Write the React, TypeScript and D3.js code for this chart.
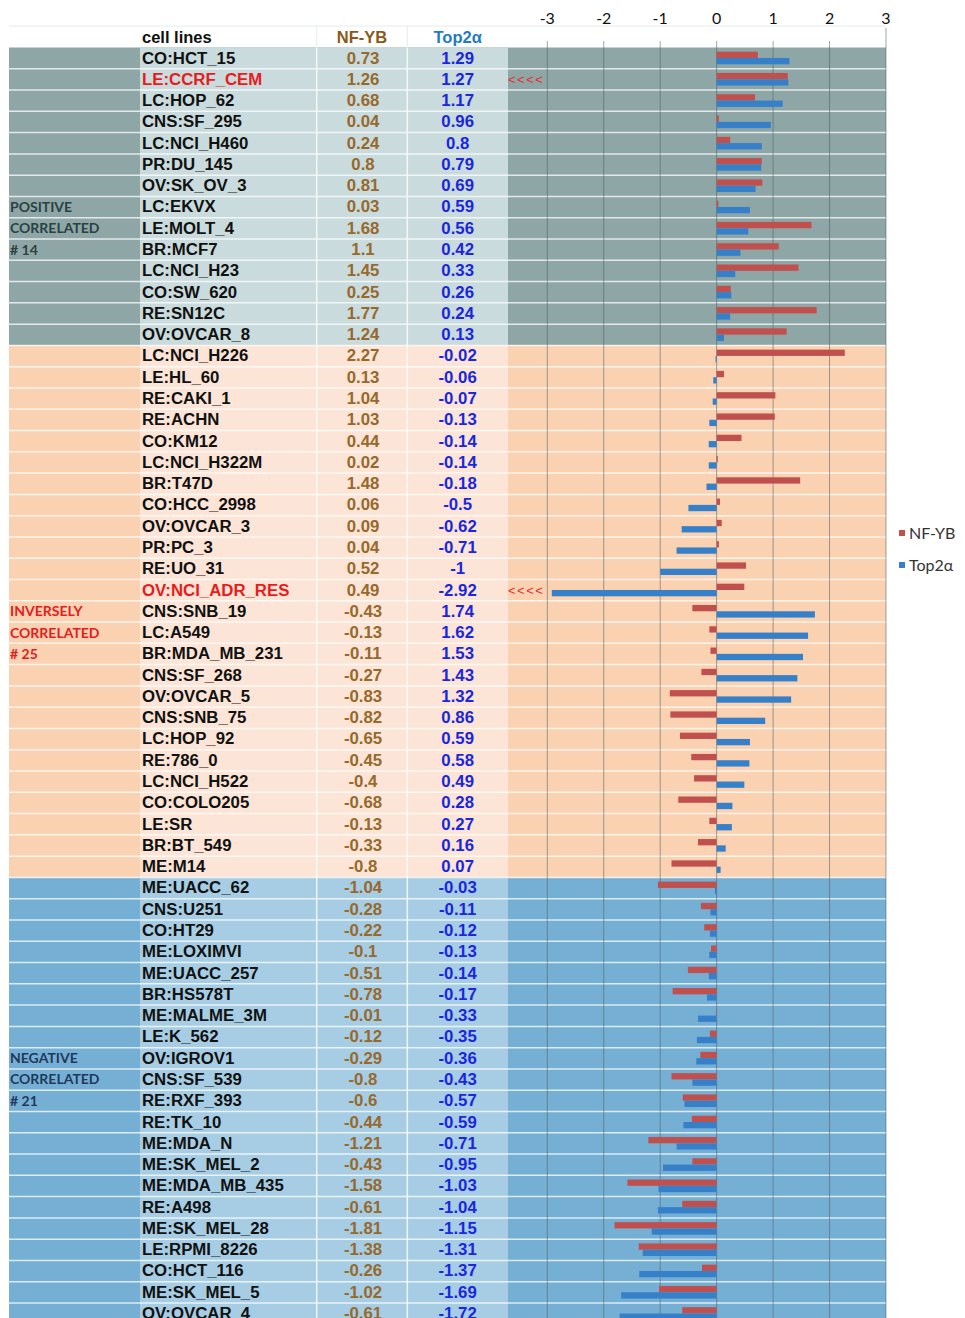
import React from 'react';
import * as d3 from 'd3';

const cellLines = [
  'CO:HCT_15','LE:CCRF_CEM','LC:HOP_62','CNS:SF_295','LC:NCI_H460','PR:DU_145','OV:SK_OV_3','LC:EKVX','LE:MOLT_4','BR:MCF7','LC:NCI_H23','CO:SW_620','RE:SN12C','OV:OVCAR_8',
  'LC:NCI_H226','LE:HL_60','RE:CAKI_1','RE:ACHN','CO:KM12','LC:NCI_H322M','BR:T47D','CO:HCC_2998','OV:OVCAR_3','PR:PC_3','RE:UO_31','OV:NCI_ADR_RES','CNS:SNB_19','LC:A549','BR:MDA_MB_231','CNS:SF_268','OV:OVCAR_5','CNS:SNB_75','LC:HOP_92','RE:786_0','LC:NCI_H522','CO:COLO205','LE:SR','BR:BT_549','ME:M14',
  'ME:UACC_62','CNS:U251','CO:HT29','ME:LOXIMVI','ME:UACC_257','BR:HS578T','ME:MALME_3M','LE:K_562','OV:IGROV1','CNS:SF_539','RE:RXF_393','RE:TK_10','ME:MDA_N','ME:SK_MEL_2','ME:MDA_MB_435','RE:A498','ME:SK_MEL_28','LE:RPMI_8226','CO:HCT_116','ME:SK_MEL_5','OV:OVCAR_4',
];

const nfybValues = [
  0.73, 1.26, 0.68, 0.04, 0.24, 0.8, 0.81, 0.03, 1.68, 1.1, 1.45, 0.25, 1.77, 1.24,
  2.27, 0.13, 1.04, 1.03, 0.44, 0.02, 1.48, 0.06, 0.09, 0.04, 0.52, 0.49, -0.43, -0.13, -0.11, -0.27, -0.83, -0.82, -0.65, -0.45, -0.4, -0.68, -0.13, -0.33, -0.8,
  -1.04, -0.28, -0.22, -0.1, -0.51, -0.78, -0.01, -0.12, -0.29, -0.8, -0.6, -0.44, -1.21, -0.43, -1.58, -0.61, -1.81, -1.38, -0.26, -1.02, -0.61,
];

const top2aValues = [
  1.29, 1.27, 1.17, 0.96, 0.8, 0.79, 0.69, 0.59, 0.56, 0.42, 0.33, 0.26, 0.24, 0.13,
  -0.02, -0.06, -0.07, -0.13, -0.14, -0.14, -0.18, -0.5, -0.62, -0.71, -1, -2.92, 1.74, 1.62, 1.53, 1.43, 1.32, 0.86, 0.59, 0.58, 0.49, 0.28, 0.27, 0.16, 0.07,
  -0.03, -0.11, -0.12, -0.13, -0.14, -0.17, -0.33, -0.35, -0.36, -0.43, -0.57, -0.59, -0.71, -0.95, -1.03, -1.04, -1.15, -1.31, -1.37, -1.69, -1.72,
];

const groupSizes = [14, 25, 21];
const groupLabels = [
  ['POSITIVE', 'CORRELATED', '# 14'],
  ['INVERSELY', 'CORRELATED', '# 25'],
  ['NEGATIVE', 'CORRELATED', '# 21'],
];
const groupLabelFirstRow = [7, 26, 47];
const highlighted = ['LE:CCRF_CEM', 'OV:NCI_ADR_RES'];
const xTicks = [-3, -2, -1, 0, 1, 2, 3];
const seriesNames = ['NF-YB', 'Top2\u03b1'];
const headers = ['cell lines', 'NF-YB', 'Top2\u03b1'];

// layout / style
const W = 965, H = 1318;
const TOP = 47.5, ROW = 21.28;
const COL = { left: 9, name: 140, nf: 316.7, tp: 407.3, chart: 508, right: 886 };
const groupStyles = [
  { dark: '#8fa6a6', light: '#c9dbdc', label: '#2a4242' },
  { dark: '#fad2b2', light: '#fce5d6', label: '#e3201e' },
  { dark: '#76afd4', light: '#a6cde4', label: '#1f3a5c' },
];
const seriesColors = ['#c0504d', '#3580c8'];
const TABLE_FONT = '"Liberation Sans", Arial, sans-serif';
const LABEL_FONT = 'Lato, "Open Sans", sans-serif';

export default function App() {
  const x = d3.scaleLinear().domain([-3, 3]).range([547.3, 886]);
  const y = d3.scaleBand<number>().domain(d3.range(cellLines.length)).range([TOP, TOP + cellLines.length * ROW]).padding(0);
  const sub = d3.scaleBand<number>().domain([0, 1]).range([4.2, 16.8]).padding(0);

  const groupStarts = groupSizes.map((_, i) => d3.sum(groupSizes.slice(0, i)));
  const series = [nfybValues, top2aValues];

  return (
    <div style={{ position: 'absolute', left: 0, top: 0 }}>
      <svg width={W} height={H} style={{ display: 'block', background: '#fff' }}>
        {/* group backgrounds */}
        {groupSizes.map((n, g) => {
          const y0 = y(groupStarts[g])!;
          const h = n * ROW;
          return (
            <g key={'bg' + g}>
              <rect x={COL.left} y={y0} width={COL.right - COL.left} height={h} fill={groupStyles[g].dark} />
              <rect x={COL.name} y={y0} width={COL.chart - COL.name} height={h} fill={groupStyles[g].light} />
            </g>
          );
        })}
        {/* header lines */}
        <line x1={COL.left} x2={COL.right} y1={26} y2={26} stroke="#e6ecec" strokeWidth={1} />
        {[COL.nf, COL.tp].map((cx, i) => (
          <line key={'hv' + i} x1={cx} x2={cx} y1={26} y2={TOP} stroke="#e6ecec" strokeWidth={1} />
        ))}
        {/* column separators */}
        {[COL.nf, COL.tp].map((cx, i) => (
          <line key={'cv' + i} x1={cx} x2={cx} y1={TOP} y2={H} stroke="#ffffff" strokeOpacity={0.8} strokeWidth={1.5} />
        ))}
        {/* row separators */}
        {d3.range(1, cellLines.length).map((i) => (
          <line key={'rs' + i} x1={COL.left} x2={COL.right} y1={y(i)!} y2={y(i)!} stroke="#ffffff" strokeOpacity={0.75} strokeWidth={1.5} />
        ))}
        {/* gridlines */}
        {xTicks.map((t) => (
          <line key={'gl' + t} x1={x(t)} x2={x(t)} y1={t === 3 ? 28 : 41} y2={H} stroke="#4a5e5e" strokeOpacity={0.55} strokeWidth={1} />
        ))}
        {/* tick labels */}
        {xTicks.map((t) => (
          <text key={'tl' + t} x={x(t)} y={24} textAnchor="middle" fontFamily={LABEL_FONT} fontSize={16} fill="#111">
            {String(t)}
          </text>
        ))}
        {/* bars */}
        {series.map((vals, s) =>
          vals.map((v, i) => (
            <rect
              key={'b' + s + '-' + i}
              x={Math.min(x(0), x(v))}
              y={y(i)! + sub(s)!}
              width={Math.abs(x(v) - x(0))}
              height={sub.bandwidth()}
              fill={seriesColors[s]}
            />
          ))
        )}
        {/* headers */}
        <text x={142} y={43} fontFamily={TABLE_FONT} fontWeight="bold" fontSize={16.5} fill="#111">{headers[0]}</text>
        <text x={(COL.nf + COL.tp) / 2} y={43} textAnchor="middle" fontFamily={TABLE_FONT} fontWeight="bold" fontSize={16.5} fill="#8b5a1b">{headers[1]}</text>
        <text x={(COL.tp + COL.chart) / 2} y={43} textAnchor="middle" fontFamily={TABLE_FONT} fontWeight="bold" fontSize={16.5} fill="#1f7bc4">{headers[2]}</text>
        {/* table rows */}
        {cellLines.map((name, i) => {
          const by = y(i)! + 16;
          const hl = highlighted.includes(name);
          return (
            <g key={'row' + i}>
              <text x={142} y={by} fontFamily={TABLE_FONT} fontWeight="bold" fontSize={16.8} fill={hl ? '#e81c1c' : '#111'}>{name}</text>
              <text x={(COL.nf + COL.tp) / 2 + 1} y={by} textAnchor="middle" fontFamily={TABLE_FONT} fontWeight="bold" fontSize={16.8} fill="#96692c">{String(nfybValues[i])}</text>
              <text x={(COL.tp + COL.chart) / 2} y={by} textAnchor="middle" fontFamily={TABLE_FONT} fontWeight="bold" fontSize={16.8} fill="#1a26e0">{String(top2aValues[i])}</text>
              {hl && (
                <text x={508} y={y(i)! + 15} fontFamily={TABLE_FONT} fontSize={13} letterSpacing={1.5} fill="#e03030">{'<<<<'}</text>
              )}
            </g>
          );
        })}
        {/* group labels */}
        {groupLabels.map((lines, g) =>
          lines.map((ln, k) => (
            <text key={'gl' + g + '-' + k} x={10} y={y(groupLabelFirstRow[g] + k)! + 15.5} fontFamily={LABEL_FONT} fontWeight="bold" fontSize={14} fill={groupStyles[g].label}>
              {ln}
            </text>
          ))
        )}
        {/* legend */}
        {seriesNames.map((nm, s) => (
          <g key={'lg' + s} transform={`translate(899, ${533 + s * 32})`}>
            <rect x={0} y={-3} width={6} height={6} fill={seriesColors[s]} />
            <text x={10} y={5.5} fontFamily={LABEL_FONT} fontSize={16} fill="#333">{nm}</text>
          </g>
        ))}
      </svg>
    </div>
  );
}
